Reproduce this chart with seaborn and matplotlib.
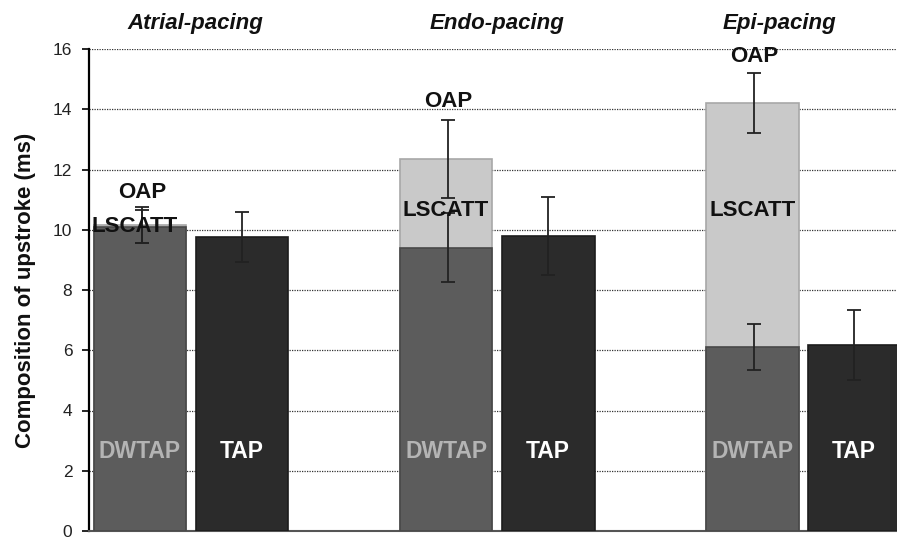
import numpy as np
import pandas as pd
import matplotlib
matplotlib.use("Agg")
import matplotlib.pyplot as plt
import seaborn as sns

# ---- data ----
groups = ["Atrial-pacing", "Endo-pacing", "Epi-pacing"]
dwtap = [10.1, 9.4, 6.1]
lscatt = [0.05, 2.95, 8.1]
oap = [0.0, 0.0, 0.0]
tap = [9.77, 9.8, 6.17]
dwtap_err = [0.55, 1.15, 0.77]
total_err = [0.6, 1.3, 1.0]
tap_err = [0.83, 1.3, 1.17]
yticks = [0, 2, 4, 6, 8, 10, 12, 14, 16]

sns.set_theme(style="white")
plt.rcParams["font.family"] = ["Liberation Sans", "DejaVu Sans"]

fig = plt.figure(figsize=(8.97, 5.4), dpi=100)
ax = fig.add_axes([89 / 897, 1 - 531 / 540, (897 - 89) / 897, (531 - 49) / 540])

gpos = np.array([0.0, 3.0, 6.0])
tpos = gpos + 1.0
totals = np.array(dwtap) + np.array(lscatt) + np.array(oap)

df_tot = pd.DataFrame({"x": gpos, "y": totals})
df_dw = pd.DataFrame({"x": gpos, "y": dwtap})
df_tap = pd.DataFrame({"x": tpos, "y": tap})

c_light = "#c9c9c9"
c_dw = "#5c5c5c"
c_tap = "#2b2b2b"
bw = 0.91 / 3  # native-scale width is relative to spacing of 3

ax.set_axisbelow(True)
for yv in yticks[1:]:
    ax.axhline(yv, color="#333333", lw=0.9, ls=(0, (1, 1)), zorder=0)

sns.barplot(data=df_tot, x="x", y="y", native_scale=True, width=bw,
            color=c_light, saturation=1, edgecolor="#a8a8a8", linewidth=1.2,
            ax=ax, zorder=2)
sns.barplot(data=df_dw, x="x", y="y", native_scale=True, width=bw,
            color=c_dw, saturation=1, edgecolor="#484848", linewidth=1.2,
            ax=ax, zorder=3)
sns.barplot(data=df_tap, x="x", y="y", native_scale=True, width=bw,
            color=c_tap, saturation=1, edgecolor="#1c1c1c", linewidth=1.2,
            ax=ax, zorder=3)

ekw = dict(fmt="none", ecolor="#222222", elinewidth=1.3, capsize=5, capthick=1.3, zorder=5)
ax.errorbar(gpos + 0.02, dwtap, yerr=dwtap_err, **ekw)
ax.errorbar(gpos + 0.02, totals, yerr=total_err, **ekw)
ax.errorbar(tpos, tap, yerr=tap_err, **ekw)

# labels
lab_kw = dict(ha="center", va="center", fontsize=16, fontweight="bold", zorder=6)
oap_y = [11.25, 14.25, 15.75]
lsc_y = [10.1, 10.65, 10.65]
for i, g in enumerate(gpos):
    ax.text(g + 0.02, oap_y[i], "OAP", color="#111111", **lab_kw)
    ax.text(g - 0.05 if i == 0 else g, lsc_y[i], "LSCATT", color="#111111", **lab_kw)
    ax.text(g, 2.65, "DWTAP", color="#b4b4b4", **dict(lab_kw, fontsize=16.5))
    ax.text(tpos[i], 2.65, "TAP", color="white", **dict(lab_kw, fontsize=16.5))

title_x = [0.54, 3.5, 6.27]
for i, g in enumerate(groups):
    ax.text(title_x[i], 1.053, g, transform=ax.get_xaxis_transform(),
            ha="center", va="center", fontsize=16, fontweight="bold",
            fontstyle="italic", color="#111111")

ax.set_xlim(-0.5, 7.42)
ax.set_ylim(0, 16)
ax.set_yticks(yticks)
ax.set_yticklabels([str(v) for v in yticks], fontsize=12.5, color="#222222")
ax.set_xticks([])
ax.set_xlabel("")
ax.set_ylabel("Composition of upstroke (ms)", fontsize=16, fontweight="bold",
              color="#111111", labelpad=12)
ax.tick_params(axis="y", direction="out", length=5, width=1.2, color="black", left=True, pad=7)
for s in ["top", "right"]:
    ax.spines[s].set_visible(False)
ax.spines["left"].set_color("black")
ax.spines["left"].set_linewidth(1.6)
ax.spines["bottom"].set_color("#555555")
ax.spines["bottom"].set_linewidth(1.5)

fig.savefig("out.png", dpi=100)
